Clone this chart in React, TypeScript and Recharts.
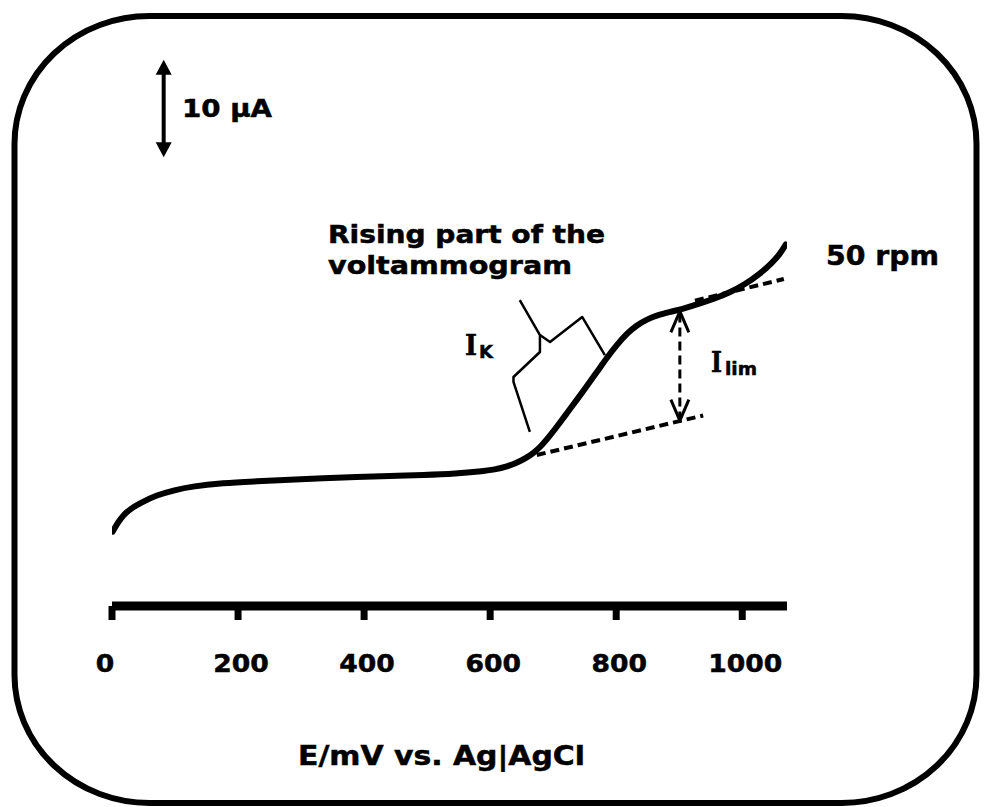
import React from "react";
import {
  LineChart,
  Line,
  XAxis,
  YAxis,
  ReferenceLine,
  Customized,
} from "recharts";

// Potential (mV vs. Ag|AgCl) and current (µA) of the voltammogram at 50 rpm
const potentialMv = [
  1, 10, 18, 29, 44, 71, 100, 124, 176, 230, 282, 335, 388, 441, 494, 547, 584,
  608, 627, 643, 657, 670, 681, 692, 706, 722, 738, 754, 770, 785, 801, 817,
  833, 849, 865, 885, 909, 933, 957, 981, 1004, 1028, 1047, 1060, 1069,
];
const currentUa = [
  7.62, 8.61, 9.33, 9.94, 10.53, 11.38, 11.89, 12.23, 12.61, 12.78, 12.96,
  13.09, 13.23, 13.33, 13.43, 13.58, 13.79, 13.99, 14.3, 14.71, 15.17, 15.74,
  16.4, 17.22, 18.38, 19.79, 21.17, 22.61, 24.04, 25.43, 26.76, 27.94, 28.81,
  29.39, 29.81, 30.14, 30.52, 31.01, 31.53, 32.16, 32.96, 34.04, 35.17, 36.09,
  37.06,
];

// Extrapolated baseline below the wave and tangent to the limiting plateau
const baselineE = [674, 938];
const baselineI = [15.48, 19.53];
const plateauE = [925, 1066];
const plateauI = [31.3, 33.52];

// Bracket marking the kinetic (rising) region
const bracketStemE = [647, 679, 679, 637, 637, 663];
const bracketStemI = [31.37, 27.78, 26.04, 23.48, 22.97, 17.84];
const bracketArmE = [679, 695, 746, 782];
const bracketArmI = [27.78, 27.07, 29.63, 25.73];

// Limiting-current arrow and the 10 µA scale bar
const limArrowE = 901;
const limArrowI = [19.0, 30.2];
const scaleBarE = 82;
const scaleBarI = [46, 56];

const xTicks = [0, 200, 400, 600, 800, 1000];
const xDomain = [0, 1071];
const yDomain = [0, 57];

const zip = (xs: number[], ys: number[]) =>
  xs.map((E, i) => ({ E, I: ys[i] }));

const curve = zip(potentialMv, currentUa);
const baseline = zip(baselineE, baselineI);
const plateau = zip(plateauE, plateauI);
const bracketStem = zip(bracketStemE, bracketStemI);
const bracketArm = zip(bracketArmE, bracketArmI);

const FONT = "'DejaVu Sans', Verdana, sans-serif";
const SERIF = "'DejaVu Serif', serif";

const XTick = (props: any) => {
  const { x, y, payload } = props;
  const v = payload.value;
  const label = String(v);
  return (
    <text
      x={x + (v === 0 ? -7 : 3)}
      y={y}
      dy={50}
      textAnchor="middle"
      fontFamily={FONT}
      fontWeight="bold"
      fontSize={24}
      fill="#000"
      stroke="#000"
      strokeWidth={0.5}
      textLength={label.length * 18.5}
      lengthAdjust="spacingAndGlyphs"
    >
      {label}
    </text>
  );
};

const DashedDoubleArrow = (p: any) => {
  const { x1, y1, y2 } = p;
  const top = Math.min(y1, y2);
  const bottom = Math.max(y1, y2);
  return (
    <g stroke="#000" fill="none" strokeWidth={3} strokeLinejoin="round">
      <line x1={x1} y1={top + 2} x2={x1} y2={bottom - 2} strokeDasharray="9 5" />
      <polyline points={`${x1 - 9},${top + 21} ${x1},${top} ${x1 + 9},${top + 21}`} />
      <polyline
        points={`${x1 - 9},${bottom - 21} ${x1},${bottom} ${x1 + 9},${bottom - 21}`}
      />
    </g>
  );
};

const ScaleBar = (p: any) => {
  const { x1, y1, y2 } = p;
  const top = Math.min(y1, y2);
  const bottom = Math.max(y1, y2);
  return (
    <g>
      <line x1={x1} y1={top + 10} x2={x1} y2={bottom - 10} stroke="#000" strokeWidth={4} />
      <polygon points={`${x1},${top} ${x1 - 8},${top + 15} ${x1 + 8},${top + 15}`} fill="#000" />
      <polygon
        points={`${x1},${bottom} ${x1 - 8},${bottom - 15} ${x1 + 8},${bottom - 15}`}
        fill="#000"
      />
    </g>
  );
};

const txt = {
  fontFamily: FONT,
  fontWeight: "bold" as const,
  fill: "#000",
  stroke: "#000",
  strokeWidth: 0.5,
  lengthAdjust: "spacingAndGlyphs",
};

const Annotations = () => (
  <g>
    <rect
      x={14.5}
      y={16}
      width={962}
      height={787}
      rx={135}
      ry={128}
      fill="none"
      stroke="#000"
      strokeWidth={6}
    />
    <text x={182} y={117} fontSize={25} textLength={90} {...txt}>
      10 µA
    </text>
    <text x={328} y={242.5} fontSize={24} textLength={277} {...txt}>
      Rising part of the
    </text>
    <text x={328} y={273.5} fontSize={24} textLength={244} {...txt}>
      voltammogram
    </text>
    <text x={465} y={355} fontSize={27} textLength={12} {...txt} fontFamily={SERIF}>
      I
    </text>
    <text x={479} y={358} fontSize={18} textLength={14} {...txt}>
      K
    </text>
    <text x={711} y={371.5} fontSize={27} textLength={11} {...txt} fontFamily={SERIF}>
      I
    </text>
    <text x={725} y={375} fontSize={17.5} textLength={32} {...txt}>
      lim
    </text>
    <text x={826} y={265} fontSize={26} textLength={113} {...txt}>
      50 rpm
    </text>
    <text x={298} y={765} fontSize={27} textLength={287} {...txt}>
      E/mV vs. Ag|AgCl
    </text>
  </g>
);

export default function App() {
  return (
    <div style={{ position: "absolute", left: 0, top: 0, background: "#fff" }}>
      <LineChart
        width={990}
        height={807}
        margin={{ top: 50, right: 203, bottom: 121, left: 112 }}
      >
        <XAxis
          type="number"
          dataKey="E"
          domain={xDomain}
          ticks={xTicks}
          allowDataOverflow
          height={80}
          axisLine={{ stroke: "#000", strokeWidth: 9 }}
          tickLine={{ stroke: "#000", strokeWidth: 7 }}
          tickSize={14}
          tickMargin={2}
          tick={<XTick />}
          interval={0}
        />
        <YAxis type="number" domain={yDomain} hide width={0} allowDataOverflow />
        <Line
          data={baseline}
          dataKey="I"
          type="linear"
          stroke="#000"
          strokeWidth={4}
          strokeDasharray="9 5"
          dot={false}
          activeDot={false}
          isAnimationActive={false}
        />
        <Line
          data={plateau}
          dataKey="I"
          type="linear"
          stroke="#000"
          strokeWidth={4}
          strokeDasharray="9 5"
          dot={false}
          activeDot={false}
          isAnimationActive={false}
        />
        <Line
          data={bracketStem}
          dataKey="I"
          type="linear"
          stroke="#000"
          strokeWidth={2.5}
          strokeLinejoin="round"
          dot={false}
          activeDot={false}
          isAnimationActive={false}
        />
        <Line
          data={bracketArm}
          dataKey="I"
          type="linear"
          stroke="#000"
          strokeWidth={2.5}
          strokeLinejoin="round"
          dot={false}
          activeDot={false}
          isAnimationActive={false}
        />
        <Line
          data={curve}
          dataKey="I"
          type="basis"
          stroke="#000"
          strokeWidth={6}
          strokeLinecap="round"
          dot={false}
          activeDot={false}
          isAnimationActive={false}
        />
        <ReferenceLine
          segment={[
            { x: limArrowE, y: limArrowI[0] },
            { x: limArrowE, y: limArrowI[1] },
          ]}
          stroke="#000"
          shape={(p: any) => <DashedDoubleArrow {...p} />}
        />
        <ReferenceLine
          segment={[
            { x: scaleBarE, y: scaleBarI[0] },
            { x: scaleBarE, y: scaleBarI[1] },
          ]}
          stroke="#000"
          shape={(p: any) => <ScaleBar {...p} />}
        />
        <Customized component={<Annotations />} />
      </LineChart>
    </div>
  );
}
